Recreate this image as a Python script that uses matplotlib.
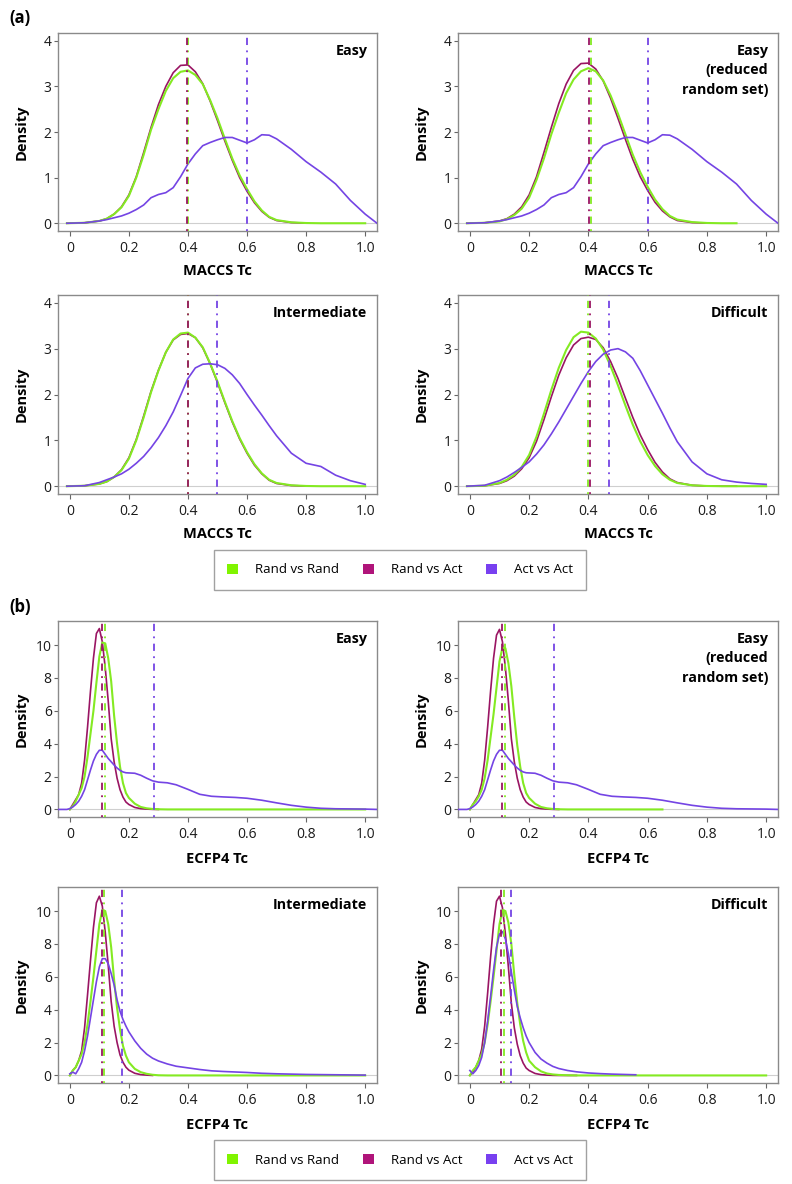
import numpy as np
import matplotlib
matplotlib.use('Agg')
import matplotlib.pyplot as plt
from matplotlib.patches import Patch

plt.rcParams['font.family'] = ['Open Sans', 'DejaVu Sans']

W, H = 792, 1184

# colours
GREEN = '#84ea22'
RED = '#9a1563'
PURPLE = '#7444e4'
LEG_GREEN = '#80f400'
LEG_RED = '#b0147a'
LEG_PURPLE = '#7840f0'

nan = np.nan

# ---------------- (a) MACCS Tc ----------------
maccs_x = [-0.01, 0.05, 0.1, 0.125, 0.15, 0.175, 0.2, 0.225, 0.25, 0.275, 0.3, 0.325,
           0.35, 0.375, 0.4, 0.425, 0.45, 0.475, 0.5, 0.525, 0.55, 0.575, 0.6, 0.625,
           0.65, 0.675, 0.7, 0.75, 0.8, 0.85, 0.9, 0.95, 1.0, 1.04]

maccs_easy_rr = [0, 0.01, 0.05, 0.1, 0.2, 0.35, 0.6, 1.0, 1.5, 2.05, 2.5, 2.9, 3.18, 3.32, 3.35,
                 3.25, 3.05, 2.7, 2.3, 1.85, 1.42, 1.05, 0.75, 0.48, 0.28, 0.14, 0.07, 0.02,
                 0.005, 0, 0, 0, 0, nan]
maccs_easy_ra = [0, 0.01, 0.05, 0.1, 0.2, 0.36, 0.62, 1.02, 1.55, 2.1, 2.6, 3.0, 3.3, 3.46, 3.47,
                 3.32, 3.06, 2.68, 2.25, 1.8, 1.38, 1.0, 0.7, 0.45, 0.26, 0.13, 0.06, 0.015,
                 0.003, nan, nan, nan, nan, nan]
maccs_easy_aa = [0, 0.01, 0.05, 0.08, 0.12, 0.16, 0.22, 0.3, 0.4, 0.56, 0.63, 0.67, 0.78, 1.02,
                 1.3, 1.52, 1.7, 1.77, 1.83, 1.88, 1.88, 1.82, 1.76, 1.83, 1.94, 1.93, 1.85,
                 1.62, 1.35, 1.12, 0.86, 0.5, 0.2, 0.0]

maccs_red_rr = [0, 0.01, 0.04, 0.09, 0.18, 0.32, 0.56, 0.95, 1.42, 1.95, 2.42, 2.85, 3.15, 3.33,
                3.4, 3.33, 3.13, 2.8, 2.4, 1.95, 1.5, 1.12, 0.8, 0.52, 0.31, 0.16, 0.08, 0.025,
                0.006, 0, 0, nan, nan, nan]
maccs_red_ra = [0, 0.01, 0.05, 0.1, 0.2, 0.36, 0.62, 1.02, 1.55, 2.1, 2.62, 3.05, 3.35, 3.5, 3.51,
                3.38, 3.12, 2.74, 2.3, 1.84, 1.4, 1.02, 0.72, 0.46, 0.27, 0.14, 0.06, 0.015,
                0.003, nan, nan, nan, nan, nan]
maccs_red_aa = maccs_easy_aa

maccs_int_rr = [0, 0.01, 0.05, 0.1, 0.2, 0.35, 0.6, 1.0, 1.5, 2.05, 2.52, 2.92, 3.2, 3.33, 3.35,
                3.24, 3.03, 2.68, 2.28, 1.84, 1.42, 1.05, 0.74, 0.48, 0.28, 0.14, 0.07, 0.02,
                0.005, 0, 0, 0, 0, nan]
maccs_int_ra = [0, 0.01, 0.05, 0.1, 0.2, 0.36, 0.62, 1.02, 1.53, 2.07, 2.53, 2.92, 3.19, 3.31,
                3.33, 3.24, 3.02, 2.67, 2.26, 1.82, 1.4, 1.03, 0.72, 0.46, 0.27, 0.13, 0.06,
                0.015, 0.003, nan, nan, nan, nan, nan]
maccs_int_aa = [0, 0.01, 0.08, 0.14, 0.2, 0.27, 0.37, 0.5, 0.65, 0.84, 1.06, 1.32, 1.62, 1.98,
                2.35, 2.58, 2.66, 2.67, 2.65, 2.57, 2.43, 2.24, 2.0, 1.77, 1.55, 1.32, 1.1,
                0.72, 0.5, 0.43, 0.24, 0.12, 0.04, nan]

maccs_diff_rr = [0, 0.01, 0.07, 0.14, 0.25, 0.42, 0.68, 1.08, 1.58, 2.1, 2.58, 2.97, 3.25, 3.37,
                 3.35, 3.22, 2.98, 2.62, 2.2, 1.76, 1.34, 0.98, 0.68, 0.44, 0.26, 0.14, 0.07,
                 0.02, 0.005, 0, 0, 0, 0, nan]
maccs_diff_ra = [0, 0.01, 0.06, 0.12, 0.22, 0.38, 0.62, 0.98, 1.45, 1.95, 2.42, 2.8, 3.08, 3.22,
                 3.25, 3.2, 3.02, 2.72, 2.35, 1.92, 1.5, 1.12, 0.8, 0.52, 0.31, 0.16, 0.08, 0.02,
                 0.005, 0, 0, nan, nan, nan]
maccs_diff_aa = [0, 0.02, 0.12, 0.2, 0.3, 0.41, 0.53, 0.7, 0.9, 1.14, 1.4, 1.68, 1.96, 2.24, 2.5,
                 2.72, 2.88, 2.97, 3.0, 2.93, 2.79, 2.52, 2.21, 1.9, 1.59, 1.27, 0.97, 0.53,
                 0.27, 0.14, 0.09, 0.06, 0.04, nan]

# ---------------- (b) ECFP4 Tc ----------------
ecfp_x = [-0.04, -0.01, 0.0, 0.01, 0.02, 0.03, 0.04, 0.05, 0.06, 0.07, 0.08, 0.09, 0.1, 0.11,
          0.12, 0.13, 0.14, 0.15, 0.16, 0.17, 0.18, 0.19, 0.2, 0.22, 0.24, 0.26, 0.28, 0.3,
          0.33, 0.36, 0.4, 0.44, 0.48, 0.52, 0.56, 0.6, 0.65, 0.7, 0.75, 0.8, 0.85, 0.9, 1.0,
          1.04]

ecfp_easy_rr = [nan, nan, 0.0, 0.2, 0.5, 0.9, 1.3, 2.0, 3.2, 4.6, 6.0, 7.7, 9.3, 10.15, 10.1,
                9.2, 7.8, 5.7, 4.0, 2.6, 1.6, 1.0, 0.7, 0.35, 0.15, 0.07, 0.03, 0.01, 0, 0, 0,
                0, 0, 0, 0, 0, 0, 0, 0, 0, 0, 0, 0, nan]
ecfp_easy_ra = [nan, nan, 0.0, 0.3, 0.6, 0.9, 1.6, 3.0, 5.0, 7.2, 9.2, 10.7, 11.0, 10.2, 8.6,
                6.6, 4.3, 2.9, 1.9, 1.2, 0.75, 0.45, 0.3, 0.12, 0.05, 0.02, 0.005, 0.0, nan,
                nan, nan, nan, nan, nan, nan, nan, nan, nan, nan, nan, nan, nan, nan, nan]
ecfp_easy_aa = [0.0, 0.0, 0.05, 0.15, 0.3, 0.5, 0.8, 1.2, 1.8, 2.4, 2.95, 3.35, 3.6, 3.6, 3.35,
                3.1, 2.9, 2.7, 2.52, 2.38, 2.28, 2.23, 2.22, 2.2, 2.08, 1.9, 1.74, 1.66, 1.62,
                1.5, 1.22, 0.92, 0.8, 0.76, 0.73, 0.68, 0.56, 0.4, 0.25, 0.14, 0.07, 0.04,
                0.02, 0.0]

ecfp_red_rr = [nan, nan, 0.0, 0.3, 0.5, 0.8, 1.2, 1.9, 3.0, 4.4, 5.8, 7.4, 9.0, 9.85, 9.8, 8.9,
               7.5, 5.6, 3.9, 2.6, 1.6, 1.0, 0.7, 0.35, 0.15, 0.07, 0.03, 0.01, 0, 0, 0, 0, 0,
               0, 0, 0, 0, nan, nan, nan, nan, nan, nan, nan]
ecfp_red_ra = [nan, nan, 0.0, 0.3, 0.6, 0.9, 1.6, 3.0, 5.0, 7.2, 9.2, 10.6, 10.95, 10.2, 8.6,
               6.6, 4.3, 2.9, 1.9, 1.2, 0.75, 0.45, 0.3, 0.12, 0.05, 0.02, 0.005, 0.0, nan, nan,
               nan, nan, nan, nan, nan, nan, nan, nan, nan, nan, nan, nan, nan, nan]
ecfp_red_aa = ecfp_easy_aa

ecfp_int_rr = [nan, nan, 0.0, 0.3, 0.5, 0.9, 1.3, 2.0, 3.1, 4.5, 6.0, 7.6, 9.2, 10.05, 10.0, 9.2,
               7.8, 5.8, 4.1, 2.8, 1.8, 1.2, 0.8, 0.4, 0.2, 0.1, 0.04, 0.01, 0, 0, 0, 0, 0, 0,
               0, 0, 0, 0, 0, 0, 0, 0, 0, nan]
ecfp_int_ra = [nan, nan, 0.0, 0.3, 0.5, 0.9, 1.5, 2.9, 4.9, 7.0, 9.0, 10.5, 10.9, 10.3, 8.7, 6.7,
               4.5, 3.0, 2.0, 1.25, 0.8, 0.5, 0.32, 0.13, 0.05, 0.02, 0.0, nan, nan, nan, nan,
               nan, nan, nan, nan, nan, nan, nan, nan, nan, nan, nan, nan, nan]
ecfp_int_aa = [nan, nan, 0.1, 0.2, 0.1, 0.4, 0.8, 1.5, 2.4, 3.5, 4.6, 5.7, 6.6, 7.1, 7.1, 6.8,
               6.2, 5.5, 4.6, 3.9, 3.4, 3.0, 2.65, 2.1, 1.65, 1.3, 1.05, 0.88, 0.7, 0.56, 0.46,
               0.36, 0.28, 0.24, 0.21, 0.18, 0.13, 0.1, 0.08, 0.06, 0.05, 0.04, 0.02, nan]

ecfp_diff_rr = [nan, nan, 0.0, 0.3, 0.5, 0.9, 1.3, 2.0, 3.1, 4.5, 6.0, 7.6, 9.2, 10.05, 10.0,
                9.3, 8.0, 6.1, 4.4, 3.1, 2.1, 1.4, 0.9, 0.5, 0.25, 0.12, 0.06, 0.03, 0.01, 0, 0,
                0, 0, 0, 0, 0, 0, 0, 0, 0, 0, 0, 0, nan]
ecfp_diff_ra = [nan, nan, 0.0, 0.2, 0.5, 0.9, 1.6, 3.0, 5.0, 7.2, 9.2, 10.6, 10.9, 10.2, 8.6,
                6.6, 4.4, 2.9, 1.9, 1.2, 0.75, 0.45, 0.3, 0.12, 0.05, 0.02, 0.005, 0.0, 0.0,
                0.0, nan, nan, nan, nan, nan, nan, nan, nan, nan, nan, nan, nan, nan, nan]
ecfp_diff_aa = [nan, nan, 0.3, 0.1, 0.3, 0.6, 1.1, 2.0, 3.3, 4.8, 6.4, 7.8, 8.6, 8.75, 8.3, 7.4,
                6.3, 5.2, 4.2, 3.5, 2.9, 2.4, 2.0, 1.4, 1.0, 0.75, 0.55, 0.42, 0.3, 0.22, 0.15,
                0.11, 0.08, 0.06, 0.04, nan, nan, nan, nan, nan, nan, nan, nan, nan]

# mean lines (rand vs rand, rand vs act, act vs act)
maccs_means = {'easy': (0.401, 0.398, 0.601), 'red': (0.41, 0.403, 0.60),
               'int': (0.401, 0.399, 0.50), 'diff': (0.40, 0.405, 0.47)}
ecfp_means = {'easy': (0.12, 0.108, 0.285), 'red': (0.12, 0.107, 0.285),
              'int': (0.115, 0.11, 0.175), 'diff': (0.115, 0.105, 0.14)}

titles = {'easy': 'Easy', 'red': 'Easy\n(reduced\nrandom set)',
          'int': 'Intermediate', 'diff': 'Difficult'}

legend_labels = ['Rand vs Rand', 'Rand vs Act', 'Act vs Act']

fig = plt.figure(figsize=(W / 100, H / 100), dpi=100)


def add_ax(l, r, t, b):
    return fig.add_axes([l / W, 1 - b / H, (r - l) / W, (b - t) / H])


def draw_panel(ax, x, rr, ra, aa, means, title, xlabel, ylim, yticks, xlab_y):
    ax.axhline(0, color='#cfcfcf', lw=0.8, zorder=0)
    ax.plot(x, ra, color=RED, lw=1.2, zorder=2)
    ax.plot(x, rr, color=GREEN, lw=1.5, zorder=3)
    ax.plot(x, aa, color=PURPLE, lw=1.2, zorder=4)
    dd = (0, (1, 3, 4, 3))
    ax.axvline(means[0], color=GREEN, lw=1.3, ls=dd, zorder=5)
    ax.axvline(means[1], color=RED, lw=1.3, ls=dd, zorder=5)
    ax.axvline(means[2], color=PURPLE, lw=1.3, ls=dd, zorder=5)

    ax.set_xlim(-0.04, 1.04)
    ax.set_ylim(*ylim)
    ax.set_xticks([0, 0.2, 0.4, 0.6, 0.8, 1.0])
    ax.set_xticklabels(['0', '0.2', '0.4', '0.6', '0.8', '1.0'])
    ax.set_yticks(yticks)
    for s in ax.spines.values():
        s.set_color('#8a8a8a')
        s.set_linewidth(1.0)
    ax.tick_params(axis='x', direction='out', length=3.5, width=0.8, color='#666666',
                   labelsize=10, pad=4, labelcolor='#1a1a1a')
    ax.tick_params(axis='y', direction='out', length=3, width=0.8, color='#666666',
                   labelsize=10, pad=1.5, labelcolor='#1a1a1a')

    ax.set_xlabel(xlabel, fontsize=10.5, fontweight='bold')
    ax.xaxis.label.set_va('center')
    ax.xaxis.set_label_coords(0.5, xlab_y)
    ax.set_ylabel('Density', fontsize=10.5, fontweight='bold')
    ax.yaxis.label.set_va('center')
    ax.yaxis.set_label_coords(-0.113, 0.5)

    ax.text(0.97, 0.945, title, transform=ax.transAxes, ha='right', va='top',
            fontsize=10.3, fontweight='bold', linespacing=1.5)


# layout in pixels (left, right, top, bottom)
cols = [(58, 377), (458, 778)]
rows_a = [(33, 231), (295, 494)]
rows_b = [(621, 817), (887, 1083)]
order = [['easy', 'red'], ['int', 'diff']]

maccs_data = {'easy': (maccs_easy_rr, maccs_easy_ra, maccs_easy_aa),
              'red': (maccs_red_rr, maccs_red_ra, maccs_red_aa),
              'int': (maccs_int_rr, maccs_int_ra, maccs_int_aa),
              'diff': (maccs_diff_rr, maccs_diff_ra, maccs_diff_aa)}
ecfp_data = {'easy': (ecfp_easy_rr, ecfp_easy_ra, ecfp_easy_aa),
             'red': (ecfp_red_rr, ecfp_red_ra, ecfp_red_aa),
             'int': (ecfp_int_rr, ecfp_int_ra, ecfp_int_aa),
             'diff': (ecfp_diff_rr, ecfp_diff_ra, ecfp_diff_aa)}

for ri, (t, b) in enumerate(rows_a):
    for ci, (l, r) in enumerate(cols):
        key = order[ri][ci]
        ax = add_ax(l, r, t, b)
        rr, ra, aa = maccs_data[key]
        draw_panel(ax, maccs_x, rr, ra, aa, maccs_means[key], titles[key], 'MACCS Tc',
                   (-0.17, 4.17), [0, 1, 2, 3, 4], -0.2)

for ri, (t, b) in enumerate(rows_b):
    for ci, (l, r) in enumerate(cols):
        key = order[ri][ci]
        ax = add_ax(l, r, t, b)
        rr, ra, aa = ecfp_data[key]
        draw_panel(ax, ecfp_x, rr, ra, aa, ecfp_means[key], titles[key], 'ECFP4 Tc',
                   (-0.46, 11.46), [0, 2, 4, 6, 8, 10], -0.215)

fig.text(9 / W, 1 - 18 / H, '(a)', fontsize=12, fontweight='bold', va='center', ha='left')
fig.text(9 / W, 1 - 607 / H, '(b)', fontsize=12, fontweight='bold', va='center', ha='left')

handles = [Patch(facecolor=c, edgecolor='none') for c in (LEG_GREEN, LEG_RED, LEG_PURPLE)]
for cy in (570, 1160):
    fig.legend(handles, legend_labels, loc='center', bbox_to_anchor=(400 / W, 1 - cy / H),
               ncol=3, frameon=True, fancybox=False, edgecolor='#8a8a8a', fontsize=9.5,
               handlelength=0.85, handleheight=0.85, handletextpad=1.3, columnspacing=1.75,
               borderpad=1.0, borderaxespad=0)

fig.savefig('out.png', dpi=100)
